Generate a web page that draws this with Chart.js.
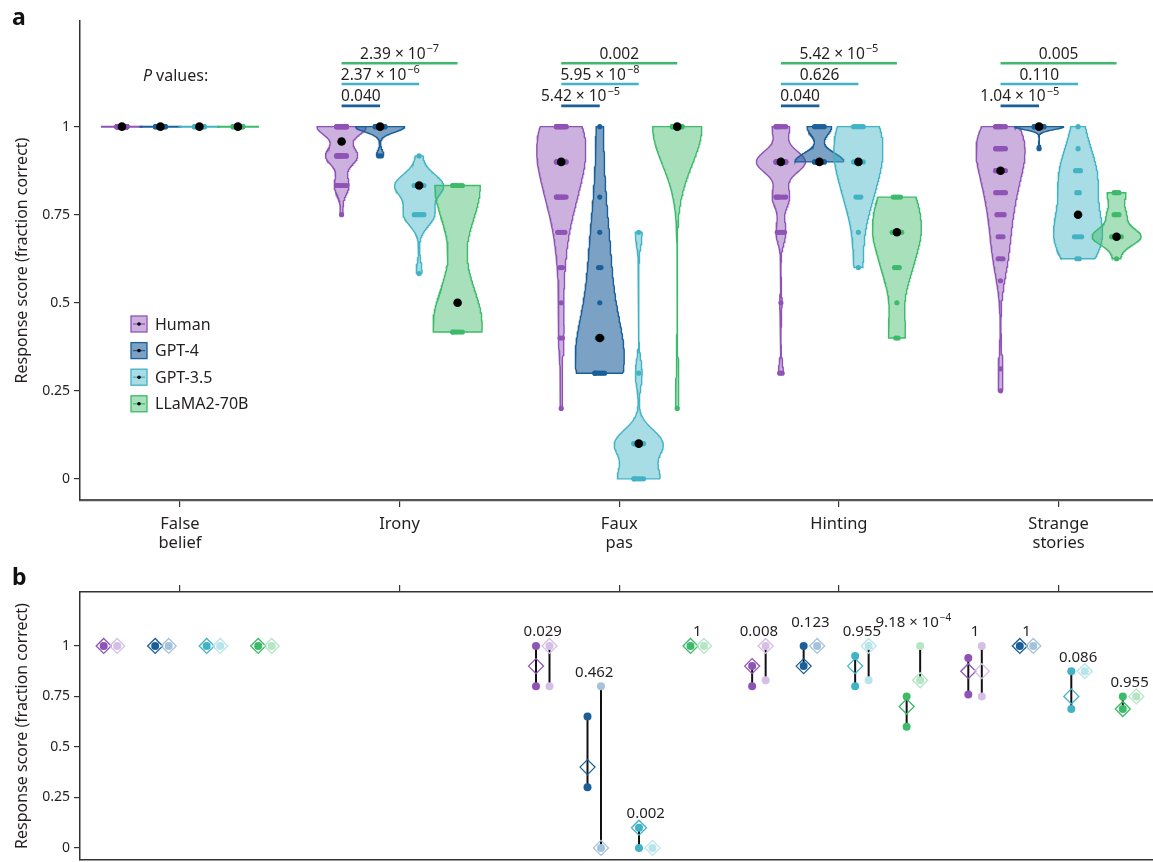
<!DOCTYPE html>
<html>
<head>
<meta charset="utf-8">
<title>Theory of mind test scores</title>
<script src="https://cdn.jsdelivr.net/npm/chart.js@4.4.1/dist/chart.umd.min.js"></script>
<style>
  body { margin: 0; background: #fff; }
  #page { position: relative; width: 1153px; height: 862px; overflow: hidden; }
  #panelA { position: absolute; left: 0; top: 0; }
  #panelB { position: absolute; left: 0; top: 560px; }
  .tag { position: absolute; left: 12px; font: bold 23px/23px "Noto Sans", sans-serif; color: #111; }
</style>
</head>
<body>
<div id="page">
  <canvas id="panelA" width="1153" height="560"></canvas>
  <canvas id="panelB" width="1153" height="302"></canvas>
  <div class="tag" style="top:5px">a</div>
  <div class="tag" style="top:565px">b</div>
</div>
<script>
// Categories and groups
const tests = ['False belief', 'Irony', 'Faux pas', 'Hinting', 'Strange stories'];
const testTickLabels = [['False', 'belief'], 'Irony', ['Faux', 'pas'], 'Hinting', ['Strange', 'stories']];
const groups = ['Human', 'GPT-4', 'GPT-3.5', 'LLaMA2-70B'];
const yTickValues = [0, 0.25, 0.5, 0.75, 1];

// Panel a: scores as [score, number of responses], per group (Human, GPT-4, GPT-3.5, LLaMA2-70B)
const falseBelief = [
  [[1, 50]],
  [[1, 15]],
  [[1, 15]],
  [[1, 15]]
];
const irony = [
  [[1, 20], [0.917, 13], [0.833, 6], [0.75, 1]],
  [[1, 13], [0.917, 2]],
  [[0.917, 1], [0.833, 8], [0.75, 5], [0.583, 1]],
  [[0.833, 7], [0.5, 2], [0.417, 6]]
];
const fauxPas = [
  [[1, 14], [0.9, 14], [0.8, 9], [0.7, 4], [0.6, 2], [0.5, 1], [0.4, 2], [0.2, 1]],
  [[1, 1], [0.8, 1], [0.7, 1], [0.6, 2], [0.5, 1], [0.4, 3], [0.3, 6]],
  [[0.7, 1], [0.3, 1], [0.1, 7], [0, 6]],
  [[1, 14], [0.2, 1]]
];
const hinting = [
  [[1, 7], [0.9, 20], [0.8, 7], [0.7, 4], [0.5, 1], [0.3, 2]],
  [[1, 5], [0.9, 10]],
  [[1, 5], [0.9, 5], [0.8, 3], [0.7, 1], [0.6, 1]],
  [[0.8, 4], [0.7, 5], [0.6, 3], [0.5, 1], [0.4, 2]]
];
const strangeStories = [
  [[1, 8], [0.9375, 9], [0.875, 7], [0.8125, 5], [0.75, 4], [0.6875, 3], [0.625, 3], [0.5625, 1], [0.3125, 1], [0.25, 1]],
  [[1, 14], [0.9375, 1]],
  [[1, 1], [0.9375, 1], [0.875, 3], [0.8125, 2], [0.75, 2], [0.6875, 4], [0.625, 2]],
  [[0.8125, 3], [0.75, 3], [0.6875, 8], [0.625, 1]]
];
const scoresByTest = [falseBelief, irony, fauxPas, hinting, strangeStories];

// Black dots (median score per group)
const medians = [
  [1, 1, 1, 1],
  [0.958, 1, 0.833, 0.5],
  [0.9, 0.4, 0.1, 1],
  [0.9, 0.9, 0.9, 0.7],
  [0.875, 1, 0.75, 0.6875]
];

// P values of each model against humans: GPT-4, GPT-3.5, LLaMA2-70B
const pValues = [
  null,
  ['0.040', '2.37e-6', '2.39e-7'],
  ['5.42e-5', '5.95e-8', '0.002'],
  ['0.040', '0.626', '5.42e-5'],
  ['1.04e-5', '0.110', '0.005']
];

// Panel b: tests shown, and [low, high, diamond] for validated (dark) and novel (light) items
const bTestIndex = [0, 2, 3, 4];
const validatedRange = [
  [[1, 1, 1], [1, 1, 1], [1, 1, 1], [1, 1, 1]],
  [[0.8, 1, 0.9], [0.3, 0.65, 0.4], [0, 0.1, 0.1], [1, 1, 1]],
  [[0.8, 0.9, 0.9], [0.9, 1, 0.9], [0.8, 0.95, 0.9], [0.6, 0.75, 0.7]],
  [[0.76, 0.94, 0.875], [1, 1, 1], [0.6875, 0.875, 0.75], [0.6875, 0.75, 0.6875]]
];
const novelRange = [
  [[1, 1, 1], [1, 1, 1], [1, 1, 1], [1, 1, 1]],
  [[0.8, 1, 1], [0, 0.8, 0], [0, 0, 0], [1, 1, 1]],
  [[0.83, 1, 1], [1, 1, 1], [0.83, 1, 1], [0.83, 1, 0.83]],
  [[0.75, 1, 0.875], [1, 1, 1], [0.875, 0.875, 0.875], [0.75, 0.75, 0.75]]
];
const bPValues = [
  null,
  ['0.029', '0.462', '0.002', '1'],
  ['0.008', '0.123', '0.955', '9.18e-4'],
  ['1', '1', '0.086', '0.955']
];

// Colours
const groupColors = ['#8f53b6', '#1b5f99', '#41b3c5', '#3dba6a'];
const groupFills = ['rgba(143,83,182,0.45)', 'rgba(27,95,153,0.58)', 'rgba(65,179,197,0.45)', 'rgba(61,186,106,0.45)'];
const novelColors = ['#d6bfe7', '#a5c2dc', '#b8e4eb', '#b5e5c5'];

// Layout
const FONT = '"Noto Sans", "DejaVu Sans", sans-serif';
const TEXT = '#231f20';
const X_MIN = -0.455, X_MAX = 4.43;
const PX = 1073 / (X_MAX - X_MIN); // pixels per category
const groupOffset = [-58, -19.5, 19.5, 58].map(p => p / PX);
const VIOLIN_HALF = 24.5 / PX;
const FLAT_HALF = 21 / PX;
const barLevels = [1.059, 1.121, 1.180];
const bNovelShift = 13.5 / PX;

// x of the validated (dark) marker of group g in panel b
function bDarkX(t, g) {
  return t + (1 - 3.5 * t + (g - 1.5) * 51.5) / PX;
}

Chart.defaults.font.family = FONT;
Chart.defaults.color = TEXT;

// Expand [score, count] pairs to a sorted list
function expand(obs) {
  const vals = [];
  obs.forEach(([v, c]) => { for (let i = 0; i < c; i++) vals.push(v); });
  return vals.sort((a, b) => a - b);
}

// Rule-of-thumb bandwidth (like R's bw.nrd0)
function bandwidth(vals) {
  const n = vals.length;
  const mean = vals.reduce((s, v) => s + v, 0) / n;
  const sd = Math.sqrt(vals.reduce((s, v) => s + (v - mean) ** 2, 0) / (n - 1));
  const quant = p => {
    const h = (n - 1) * p, i = Math.floor(h);
    return vals[i] + (h - i) * (vals[Math.min(i + 1, n - 1)] - vals[i]);
  };
  let lo = Math.min(sd, (quant(0.75) - quant(0.25)) / 1.34);
  if (!lo) lo = sd || Math.abs(vals[0]) || 1;
  return 0.9 * lo * Math.pow(n, -0.2);
}

function density(obs, y, bw) {
  return obs.reduce((s, [v, c]) => s + c * Math.exp(-0.5 * ((y - v) / bw) ** 2), 0);
}

// Closed violin outline, trimmed to the data range
function violinOutline(obs, cx) {
  const vals = expand(obs);
  const lo = vals[0], hi = vals[vals.length - 1];
  if (hi - lo < 1e-9) {
    return [{ x: cx - FLAT_HALF, y: lo }, { x: cx + FLAT_HALF, y: lo }];
  }
  const bw = bandwidth(vals);
  const steps = 160;
  const ys = [], ds = [];
  for (let i = 0; i <= steps; i++) {
    const yv = lo + (hi - lo) * i / steps;
    ys.push(yv);
    ds.push(density(obs, yv, bw));
  }
  const dmax = Math.max(...ds);
  const right = ys.map((yv, i) => ({ x: cx + VIOLIN_HALF * ds[i] / dmax, y: yv }));
  const left = ys.map((yv, i) => ({ x: cx - VIOLIN_HALF * ds[i] / dmax, y: yv })).reverse();
  return right.concat(left, [right[0]]);
}

// Individual responses, spread sideways a little when they share a score
function spreadDots(obs, cx) {
  const pts = [];
  obs.forEach(([v, c]) => {
    const m = Math.min(c, 5);
    for (let i = 0; i < c; i++) {
      const k = i % m;
      pts.push({ x: cx + (k - (m - 1) / 2) * 2.4 / PX, y: v });
    }
  });
  return pts;
}

function buildPanelA() {
  const sets = [];
  scoresByTest.forEach((testScores, t) => {
    testScores.forEach((obs, g) => {
      const cx = t + groupOffset[g];
      const outline = violinOutline(obs, cx);
      const flat = outline.length === 2;
      sets.push({
        type: 'line', data: outline, borderColor: groupColors[g], borderWidth: flat ? 2 : 1.4,
        backgroundColor: groupFills[g], fill: flat ? false : 'shape', pointRadius: 0, tension: 0
      });
      sets.push({
        type: 'scatter', data: spreadDots(obs, cx), pointRadius: 2.6,
        pointBackgroundColor: groupColors[g], pointBorderWidth: 0
      });
      sets.push({
        type: 'scatter', data: [{ x: cx, y: medians[t][g] }], pointRadius: 4.3,
        pointBackgroundColor: '#000', pointBorderWidth: 0
      });
    });
    // significance bars from the human violin to each model
    if (pValues[t]) {
      for (let g = 1; g < 4; g++) {
        sets.push({
          type: 'line',
          data: [{ x: t + groupOffset[0], y: barLevels[g - 1] }, { x: t + groupOffset[g], y: barLevels[g - 1] }],
          borderColor: groupColors[g], borderWidth: 2.6, pointRadius: 0, fill: false
        });
      }
    }
  });
  return sets.reverse(); // first dataset is drawn on top, so reverse
}

function buildPanelB() {
  const sets = [];
  bTestIndex.forEach((t, r) => {
    for (let g = 0; g < 4; g++) {
      [validatedRange[r][g], novelRange[r][g]].forEach((range, v) => {
        const cx = bDarkX(t, g) + v * bNovelShift;
        const color = v === 0 ? groupColors[g] : novelColors[g];
        const [lo, hi, mid] = range;
        if (hi > lo) {
          sets.push({
            type: 'line', data: [{ x: cx, y: lo }, { x: cx, y: hi }],
            borderColor: '#111', borderWidth: 2, pointRadius: 0, fill: false
          });
        }
        sets.push({
          type: 'scatter', data: hi > lo ? [{ x: cx, y: lo }, { x: cx, y: hi }] : [{ x: cx, y: lo }],
          pointRadius: 4, pointBackgroundColor: color, pointBorderWidth: 0
        });
        sets.push({
          type: 'scatter', data: [{ x: cx, y: mid }], pointStyle: 'rectRot', pointRadius: 7.5,
          pointBackgroundColor: 'rgba(255,255,255,0)', pointBorderColor: color, pointBorderWidth: 1.3
        });
      });
    }
  });
  return sets.reverse();
}

// Text like 2.39 × 10^-7, centred on cx
function drawPValue(ctx, text, cx, baseline, size) {
  const [mant, expo] = text.split('e');
  ctx.textAlign = 'left';
  ctx.textBaseline = 'alphabetic';
  ctx.font = `${size}px ${FONT}`;
  if (!expo) {
    const w = ctx.measureText(text).width;
    ctx.fillText(text, cx - w / 2, baseline);
    return;
  }
  const main = mant + ' \u00d7 10';
  const sup = '\u2212' + expo.replace('-', '');
  const supSize = Math.round(size * 0.68);
  const w1 = ctx.measureText(main).width;
  ctx.font = `${supSize}px ${FONT}`;
  const w2 = ctx.measureText(sup).width;
  const x0 = cx - (w1 + w2 + 1) / 2;
  ctx.font = `${size}px ${FONT}`;
  ctx.fillText(main, x0, baseline);
  ctx.font = `${supSize}px ${FONT}`;
  ctx.fillText(sup, x0 + w1 + 1, baseline - size * 0.42);
}

const annotationsA = {
  id: 'annotationsA',
  afterDatasetsDraw(chart) {
    const { ctx, scales: { x, y } } = chart;
    ctx.save();
    ctx.fillStyle = TEXT;
    pValues.forEach((row, t) => {
      if (!row) return;
      row.forEach((p, k) => {
        const x1 = x.getPixelForValue(t + groupOffset[0]);
        const x2 = x.getPixelForValue(t + groupOffset[k + 1]);
        drawPValue(ctx, p, (x1 + x2) / 2, y.getPixelForValue(barLevels[k]) - 4.5, 15.5);
      });
    });

    // "P values:" note
    const px = x.getPixelForValue(-0.02), py = y.getPixelForValue(1.144);
    ctx.textBaseline = 'middle';
    ctx.font = `italic 16px ${FONT}`;
    const wP = ctx.measureText('P').width;
    ctx.font = `16px ${FONT}`;
    const wRest = ctx.measureText(' values:').width;
    const sx = px - (wP + wRest) / 2;
    ctx.font = `italic 16px ${FONT}`;
    ctx.fillText('P', sx, py);
    ctx.font = `16px ${FONT}`;
    ctx.fillText(' values:', sx + wP, py);

    // legend
    groups.forEach((name, g) => {
      const cy = 324 + g * 26.6;
      ctx.fillStyle = groupFills[g];
      ctx.fillRect(131, cy - 8, 16, 16);
      ctx.strokeStyle = groupColors[g];
      ctx.lineWidth = 1.3;
      ctx.strokeRect(131, cy - 8, 16, 16);
      ctx.beginPath();
      ctx.moveTo(133, cy);
      ctx.lineTo(145, cy);
      ctx.stroke();
      ctx.fillStyle = '#000';
      ctx.beginPath();
      ctx.arc(139, cy, 1.8, 0, Math.PI * 2);
      ctx.fill();
      ctx.fillStyle = TEXT;
      ctx.font = `16px ${FONT}`;
      ctx.textBaseline = 'middle';
      ctx.fillText(name, 155, cy + 1);
    });
    ctx.restore();
  }
};

const bLift = { '3-1': 9, '3-3': 9 };
const annotationsB = {
  id: 'annotationsB',
  afterDatasetsDraw(chart) {
    const { ctx, scales: { x, y } } = chart;
    ctx.save();
    ctx.fillStyle = TEXT;
    bPValues.forEach((row, r) => {
      if (!row) return;
      const t = bTestIndex[r];
      row.forEach((p, g) => {
        const top = Math.max(validatedRange[r][g][1], novelRange[r][g][1]);
        const cx = x.getPixelForValue(bDarkX(t, g) + bNovelShift / 2);
        const cy = y.getPixelForValue(top) - 15 - (bLift[t + '-' + g] || 0);
        drawPValue(ctx, p, cx, cy + 5.5, 15);
      });
    });
    ctx.restore();
  }
};

function yAxis(max) {
  return {
    type: 'linear', min: -0.06, max: max,
    afterBuildTicks: s => { s.ticks = yTickValues.map(v => ({ value: v })); },
    ticks: { font: { size: 14 }, padding: 4, color: TEXT, callback: v => String(v) },
    grid: { drawOnChartArea: false, tickLength: 6, color: '#333', lineWidth: 1.2 },
    border: { color: '#333', width: 1.5 },
    title: {
      display: true, text: 'Response score (fraction correct)', font: { size: 16 },
      color: TEXT, padding: { top: 13, bottom: 0 }
    },
    // fixed width, and no extra room asked for the end labels
    afterFit: s => { s.width = 80; s.paddingTop = 0; s.paddingBottom = 0; }
  };
}

new Chart(document.getElementById('panelA'), {
  type: 'scatter',
  data: { datasets: buildPanelA() },
  options: {
    responsive: false,
    animation: false,
    events: [],
    layout: { autoPadding: false, padding: { top: 21, right: 0, left: 0, bottom: 0 } },
    plugins: { legend: { display: false }, tooltip: { enabled: false } },
    scales: {
      x: {
        type: 'linear', min: X_MIN, max: X_MAX,
        afterBuildTicks: s => { s.ticks = tests.map((_, i) => ({ value: i })); },
        ticks: {
          font: { size: 16.5, lineHeight: 1.15 }, padding: 8, color: TEXT,
          maxRotation: 0, autoSkip: false, callback: v => testTickLabels[v]
        },
        grid: { drawOnChartArea: false, tickLength: 7, color: '#333', lineWidth: 1.2 },
        border: { color: '#555', width: 2.2 },
        afterFit: s => { s.height = 60; }
      },
      y: yAxis(1.30)
    }
  },
  plugins: [annotationsA]
});

new Chart(document.getElementById('panelB'), {
  type: 'scatter',
  data: { datasets: buildPanelB() },
  options: {
    responsive: false,
    animation: false,
    events: [],
    layout: { autoPadding: false, padding: 0 },
    plugins: { legend: { display: false }, tooltip: { enabled: false } },
    scales: {
      x: {
        type: 'linear', position: 'top', min: X_MIN, max: X_MAX,
        afterBuildTicks: s => { s.ticks = tests.map((_, i) => ({ value: i })); },
        ticks: { display: false },
        grid: { drawOnChartArea: false, tickLength: 7, color: '#333', lineWidth: 1.2 },
        border: { color: '#333', width: 1.5 },
        afterFit: s => { s.height = 32; }
      },
      xb: {
        type: 'linear', axis: 'x', position: 'bottom', min: X_MIN, max: X_MAX,
        ticks: { display: false },
        grid: { display: false },
        border: { color: '#333', width: 1.5 },
        afterFit: s => { s.height = 2; }
      },
      y: yAxis(1.267)
    }
  },
  plugins: [annotationsB]
});
</script>
</body>
</html>
